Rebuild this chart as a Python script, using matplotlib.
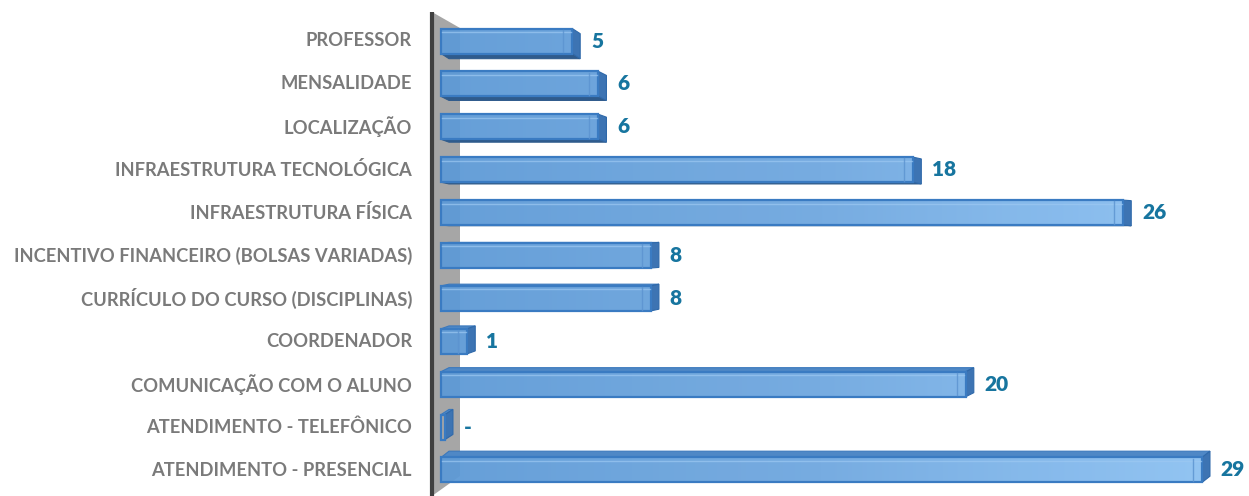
import numpy as np
import matplotlib
matplotlib.use("Agg")
import matplotlib.pyplot as plt
from matplotlib.patches import Polygon, Rectangle

# categories from top to bottom
categories = [
    "PROFESSOR",
    "MENSALIDADE",
    "LOCALIZAÇÃO",
    "INFRAESTRUTURA TECNOLÓGICA",
    "INFRAESTRUTURA FÍSICA",
    "INCENTIVO FINANCEIRO (BOLSAS VARIADAS)",
    "CURRÍCULO DO CURSO (DISCIPLINAS)",
    "COORDENADOR",
    "COMUNICAÇÃO COM O ALUNO",
    "ATENDIMENTO - TELEFÔNICO",
    "ATENDIMENTO - PRESENCIAL",
]
values = [5, 6, 6, 18, 26, 8, 8, 1, 20, 0, 29]

W, H = 1249, 496
PX_UNIT = 26.24       # pixels per value unit
ROW_PX = 42.9         # pixels per row
X0_PX = 441           # pixel of value 0
Y0_PX = 41            # pixel of first row centre

fig = plt.figure(figsize=(W / 100, H / 100), dpi=100)
ax = fig.add_axes([0, 0, 1, 1])
ax.set_xlim(-X0_PX / PX_UNIT, (W - X0_PX) / PX_UNIT)
ax.set_ylim((H - Y0_PX) / ROW_PX, -Y0_PX / ROW_PX)
ax.axis("off")


def px_x(p):
    return (p - X0_PX) / PX_UNIT


def px_y(p):
    return (p - Y0_PX) / ROW_PX


# back wall (grey) and axis line
wall = Polygon([(px_x(432), px_y(12)), (px_x(460), px_y(28)),
                (px_x(460), px_y(476)), (px_x(432), px_y(496))],
               closed=True, facecolor="#a6a6a6", edgecolor="none", zorder=1)
ax.add_patch(wall)
ax.plot([px_x(432), px_x(432)], [px_y(12), px_y(496)], color="#404040",
        lw=3, solid_capstyle="butt", zorder=2)

bar_h = 25 / ROW_PX
dx = 8 / PX_UNIT
cmap = matplotlib.colors.LinearSegmentedColormap.from_list(
    "barg", ["#5e9ad6", "#70a8e0", "#8cc1f2"])

label_color = "#7a7a7a"
value_color = "#17759f"
vmax = max(values)

for i, (cat, v) in enumerate(zip(categories, values)):
    top = i - bar_h / 2
    bot = i + bar_h / 2
    dy = -1.15 * (i - 4.5) / ROW_PX   # perspective shift of the back face
    w = v if v > 0 else 0.15
    # depth faces
    if dy > 0:
        cap = Polygon([(0, bot), (w, bot), (w + dx, bot + dy), (dx, bot + dy)],
                      closed=True, facecolor="#2f5b8c", edgecolor="#2f5b8c",
                      lw=0.8, zorder=3)
    else:
        cap = Polygon([(0, top), (w, top), (w + dx, top + dy), (dx, top + dy)],
                      closed=True, facecolor="#4f88c6", edgecolor="#3a78bd",
                      lw=0.8, zorder=3)
    ax.add_patch(cap)
    side = Polygon([(w, top), (w + dx, top + dy), (w + dx, bot + dy), (w, bot)],
                   closed=True, facecolor="#3d74b3", edgecolor="#2f69aa",
                   lw=0.8, zorder=3)
    ax.add_patch(side)
    # front face with gradient
    front = Rectangle((0, top), w, bar_h, facecolor="none",
                      edgecolor="#3a7bc2", lw=1.6, zorder=5)
    ax.add_patch(front)
    if v > 0:
        n = max(2, int(256 * v / vmax))
        grad = np.linspace(0, v / vmax, n).reshape(1, -1)
        img = ax.imshow(grad, aspect="auto", cmap=cmap, vmin=0, vmax=1,
                        extent=(0, w, bot, top), zorder=4, alpha=0.95)
        img.set_clip_path(front)
        # inner highlight strips
        ax.plot([0.05, w - 0.05], [top + 0.08, top + 0.08], color="#9cc8f2",
                lw=1, alpha=0.7, zorder=5)
        ax.plot([w - 0.35, w - 0.35], [top + 0.03, bot - 0.03],
                color="#5b93d0", lw=1, alpha=0.8, zorder=5)
    # text
    ax.text(px_x(412), i, cat, ha="right", va="center", color=label_color,
            fontsize=13.2, fontweight="bold", family="Lato")
    txt = str(v) if v > 0 else "-"
    ax.text(w + 0.72, i, txt, ha="left", va="center", color=value_color,
            fontsize=15, fontweight="heavy", family="Lato")

fig.savefig("out.png", dpi=100)
